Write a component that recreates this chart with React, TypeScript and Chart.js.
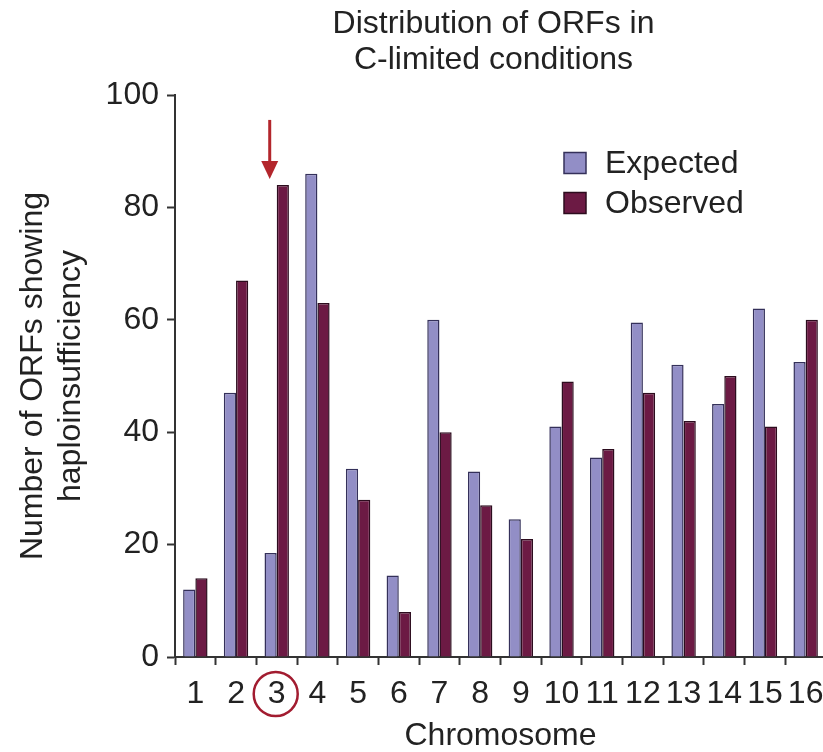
import React, { useEffect, useRef } from "react";
import { Chart, registerables } from "chart.js";

Chart.register(...registerables);

// ---- Data ----
const chromosomes = ["1", "2", "3", "4", "5", "6", "7", "8", "9", "10", "11", "12", "13", "14", "15", "16"];
const expectedValues = [12, 47, 18.5, 86, 33.5, 14.5, 60, 33, 24.5, 41, 35.5, 59.5, 52, 45, 62, 52.5];
const observedValues = [14, 67, 84, 63, 28, 8, 40, 27, 21, 49, 37, 47, 42, 50, 41, 60];
const seriesNames = ["Expected", "Observed"];
const titleLines = ["Distribution of ORFs in", "C-limited conditions"];
const yTitleLines = ["Number of ORFs showing", "haploinsufficiency"];
const xTitle = "Chromosome";
const highlightIndex = 2; // chromosome 3

const FONT = "'Liberation Sans', Arial, Helvetica, sans-serif";
const TEXT = "#222222";
const EXP_FILL = "#928ec6";
const EXP_BORDER = "#34305a";
const OBS_FILL = "#6c1a44";
const OBS_BORDER = "#2c0c1e";
const RED = "#b3262c";

const annotations = {
  id: "annotations",
  afterDraw(chart: any) {
    const { ctx, chartArea, scales } = chart;
    const x = scales.x;
    const y = scales.y;
    ctx.save();
    // Title
    ctx.fillStyle = TEXT;
    ctx.font = `32px ${FONT}`;
    ctx.textAlign = "center";
    ctx.textBaseline = "middle";
    const cx = (chartArea.left + chartArea.right) / 2 - 7;
    ctx.fillText(titleLines[0], cx, 24);
    ctx.fillText(titleLines[1], cx, 60);

    // Legend
    const datasets = chart.data.datasets;
    const lx = chartArea.left + 389;
    const ly = [163, 203];
    datasets.forEach((ds: any, i: number) => {
      ctx.fillStyle = ds.backgroundColor;
      ctx.strokeStyle = ds.borderColor;
      ctx.lineWidth = 1.5;
      ctx.fillRect(lx, ly[i] - 10.5, 22, 21);
      ctx.strokeRect(lx, ly[i] - 10.5, 22, 21);
      ctx.fillStyle = TEXT;
      ctx.font = `32px ${FONT}`;
      ctx.textAlign = "left";
      ctx.textBaseline = "middle";
      ctx.fillText(ds.label, lx + 41, ly[i] + 1);
    });

    // Red arrow above observed bar of chromosome 3
    const ax = x.getPixelForValue(highlightIndex) - 7;
    const tipY = y.getPixelForValue(observedValues[highlightIndex]) - 6;
    const topY = tipY - 59;
    ctx.strokeStyle = RED;
    ctx.fillStyle = RED;
    ctx.lineWidth = 3;
    ctx.beginPath();
    ctx.moveTo(ax, topY);
    ctx.lineTo(ax, tipY - 15);
    ctx.stroke();
    ctx.beginPath();
    ctx.moveTo(ax - 8.5, tipY - 18);
    ctx.lineTo(ax + 8.5, tipY - 18);
    ctx.lineTo(ax, tipY);
    ctx.closePath();
    ctx.fill();

    // Red circle round tick label "3"
    ctx.lineWidth = 2.5;
    ctx.strokeStyle = "#a21c30";
    ctx.beginPath();
    ctx.arc(x.getPixelForValue(highlightIndex) - 1, chartArea.bottom + 37, 22, 0, Math.PI * 2);
    ctx.stroke();
    ctx.restore();
  },
};

export default function App() {
  const canvasRef = useRef<HTMLCanvasElement | null>(null);

  useEffect(() => {
    document.body.style.margin = "0";
    const canvas = canvasRef.current;
    if (!canvas) return;
    const chart = new Chart(canvas, {
      type: "bar",
      data: {
        labels: chromosomes,
        datasets: [
          {
            label: seriesNames[0],
            data: expectedValues,
            backgroundColor: EXP_FILL,
            borderColor: EXP_BORDER,
            borderWidth: 1.5,
            categoryPercentage: 0.6,
            barPercentage: 1,
          },
          {
            label: seriesNames[1],
            data: observedValues,
            backgroundColor: OBS_FILL,
            borderColor: OBS_BORDER,
            borderWidth: 1.5,
            categoryPercentage: 0.6,
            barPercentage: 1,
          },
        ],
      },
      options: {
        responsive: false,
        animation: false,
        devicePixelRatio: 1,
        layout: { padding: { top: 95, right: 14, bottom: 0, left: 0 } },
        plugins: {
          legend: { display: false },
          title: { display: false },
          tooltip: { enabled: false },
        },
        scales: {
          x: {
            grid: {
              offset: true,
              drawOnChartArea: false,
              tickLength: 8,
              tickColor: "#333333",
              tickWidth: 2,
            },
            border: { display: true, color: "#333333", width: 2 },
            ticks: {
              color: TEXT,
              font: { family: FONT, size: 32 },
              padding: 10,
              maxRotation: 0,
              autoSkip: false,
            },
            title: {
              display: true,
              text: xTitle,
              color: TEXT,
              font: { family: FONT, size: 32, lineHeight: 1 },
              padding: { top: 0, bottom: 0 },
            },
            afterFit(scale: any) {
              scale.height = 95;
            },
          },
          y: {
            min: 0,
            max: 100,
            ticks: {
              stepSize: 20,
              color: TEXT,
              font: { family: FONT, size: 32 },
              padding: 8,
            },
            grid: {
              drawOnChartArea: false,
              tickLength: 8,
              tickColor: "#333333",
              tickWidth: 2,
            },
            border: { display: true, color: "#333333", width: 2 },
            title: {
              display: true,
              text: yTitleLines,
              color: TEXT,
              font: { family: FONT, size: 32, lineHeight: 1.2 },
              padding: { top: 14, bottom: 0 },
            },
            afterFit(scale: any) {
              scale.width = 175;
            },
          },
        },
      },
      plugins: [annotations],
    });
    return () => chart.destroy();
  }, []);

  return (
    <div style={{ width: 823, height: 752, overflow: "hidden", position: "relative", background: "#ffffff" }}>
      <canvas ref={canvasRef} width={840} height={752} style={{ display: "block", width: 840, height: 752 }} />
    </div>
  );
}
